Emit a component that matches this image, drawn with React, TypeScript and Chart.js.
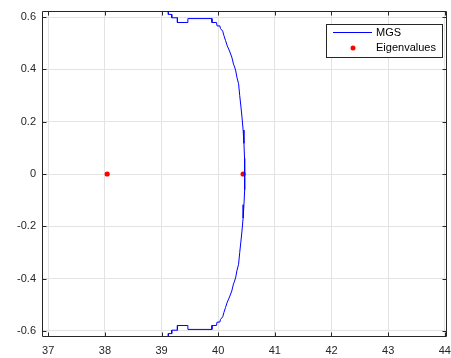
import React, { useEffect, useRef } from "react";
import { Chart, registerables } from "chart.js";
Chart.register(...registerables);

const mgsX = [
  39.10, 39.12, 39.12, 39.18, 39.18, 39.28, 39.28, 39.465, 39.465, 39.89, 39.89, 39.97, 39.98, 40.03, 40.04, 40.08,
  40.10, 40.13, 40.16, 40.20, 40.24, 40.27, 40.29, 40.31, 40.33, 40.36, 40.38, 40.40, 40.42, 40.44, 40.455, 40.465, 40.47,
  40.465, 40.455, 40.44, 40.42, 40.40, 40.38, 40.36, 40.33, 40.31, 40.29, 40.27, 40.24, 40.20, 40.16, 40.13, 40.10,
  40.08, 40.04, 40.03, 39.98, 39.97, 39.89, 39.89, 39.465, 39.465, 39.28, 39.28, 39.18, 39.18, 39.12, 39.12, 39.10,
];
const mgsY = [
  0.63, 0.62, 0.61, 0.61, 0.597, 0.597, 0.579, 0.579, 0.594, 0.594, 0.579, 0.579, 0.566, 0.566, 0.556, 0.546,
  0.53, 0.51, 0.49, 0.47, 0.447, 0.42, 0.409, 0.394, 0.37, 0.345, 0.30, 0.26, 0.218, 0.168, 0.117, 0.06, 0,
  -0.06, -0.117, -0.168, -0.218, -0.26, -0.30, -0.345, -0.37, -0.394, -0.409, -0.42, -0.447, -0.47, -0.49, -0.51, -0.53,
  -0.546, -0.556, -0.566, -0.566, -0.579, -0.579, -0.594, -0.594, -0.579, -0.579, -0.597, -0.597, -0.61, -0.61, -0.62, -0.63,
];
const eigX = [38.04, 40.44];
const eigY = [0, 0];
const xTicks = [37, 38, 39, 40, 41, 42, 43, 44];
const yTicks = [-0.6, -0.4, -0.2, 0, 0.2, 0.4, 0.6];
const xLabels = ["37", "38", "39", "40", "41", "42", "43", "44"];
const yLabels = ["-0.6", "-0.4", "-0.2", "0", "0.2", "0.4", "0.6"];
const xRange = [36.89, 44.03];
const yRange = [-0.623, 0.623];
const seriesNames = ["MGS", "Eigenvalues"];

const AX = "#262626";
const FONT = "Liberation Sans, Arial, Helvetica, sans-serif";

const framePlugin = {
  id: "frame",
  afterDraw(chart: any) {
    const { ctx, chartArea: a, scales } = chart;
    const x = scales.x;
    const y = scales.y;
    ctx.save();
    ctx.strokeStyle = AX;
    ctx.lineWidth = 1;
    const L = Math.round(a.left) + 0.5;
    const R = Math.round(a.right) - 0.5;
    const T = Math.round(a.top) + 0.5;
    const B = Math.round(a.bottom) - 0.5;
    ctx.beginPath();
    ctx.rect(L, T, R - L, B - T);
    ctx.stroke();
    ctx.beginPath();
    for (const v of xTicks) {
      const p = Math.round(x.getPixelForValue(v)) + 0.5;
      ctx.moveTo(p, B);
      ctx.lineTo(p, B - 4);
      ctx.moveTo(p, T);
      ctx.lineTo(p, T + 4);
    }
    for (const v of yTicks) {
      const p = Math.round(y.getPixelForValue(v)) + 0.5;
      ctx.moveTo(L, p);
      ctx.lineTo(L + 4, p);
      ctx.moveTo(R, p);
      ctx.lineTo(R - 4, p);
    }
    ctx.stroke();

    // legend
    ctx.fillStyle = "#ffffff";
    ctx.fillRect(326.5, 24.5, 116, 33);
    ctx.strokeStyle = AX;
    ctx.strokeRect(326.5, 24.5, 116, 33);
    ctx.strokeStyle = "#0000ff";
    ctx.beginPath();
    ctx.moveTo(333, 32.5);
    ctx.lineTo(372, 32.5);
    ctx.stroke();
    ctx.fillStyle = "#ff0000";
    ctx.beginPath();
    ctx.arc(353, 48, 2.5, 0, Math.PI * 2);
    ctx.fill();
    ctx.fillStyle = "#000000";
    ctx.font = `11px ${FONT}`;
    ctx.textAlign = "left";
    ctx.textBaseline = "middle";
    ctx.fillText(seriesNames[0], 376, 33);
    ctx.fillText(seriesNames[1], 376, 48);
    ctx.restore();
  },
};

export default function App() {
  const ref = useRef<HTMLCanvasElement>(null);
  useEffect(() => {
    const mgs = mgsX.map((x, i) => ({ x, y: mgsY[i] }));
    const eig = eigX.map((x, i) => ({ x, y: eigY[i] }));
    const chart = new Chart(ref.current!, {
      type: "scatter",
      data: {
        datasets: [
          {
            label: seriesNames[0],
            data: mgs,
            showLine: true,
            borderColor: "#0000ff",
            borderWidth: 1,
            pointRadius: 0,
            tension: 0,
          },
          {
            label: seriesNames[1],
            data: eig,
            pointRadius: 2.6,
            backgroundColor: "#ff0000",
            borderWidth: 0,
          },
        ],
      },
      options: {
        responsive: false,
        animation: false,
        devicePixelRatio: 1,
        layout: { padding: { left: 0, right: 4.5, top: 11, bottom: 0 } },
        plugins: { legend: { display: false }, tooltip: { enabled: false } },
        scales: {
          x: {
            type: "linear",
            min: xRange[0],
            max: xRange[1],
            border: { display: false },
            grid: { color: "#e3e3e3", drawTicks: false },
            afterBuildTicks: (s: any) => {
              s.ticks = xTicks.map((v) => ({ value: v }));
            },
            ticks: {
              padding: 7,
              color: AX,
              font: { family: FONT, size: 11 },
              callback: (v: any) => xLabels[xTicks.indexOf(Number(v))] ?? "",
            },
            afterFit: (s: any) => {
              s.height = 21;
              s.paddingLeft = 0;
              s.paddingRight = 0;
            },
          },
          y: {
            type: "linear",
            min: yRange[0],
            max: yRange[1],
            border: { display: false },
            grid: { color: "#e3e3e3", drawTicks: false },
            afterBuildTicks: (s: any) => {
              s.ticks = yTicks.map((v) => ({ value: v }));
            },
            ticks: {
              padding: 6,
              color: AX,
              font: { family: FONT, size: 11 },
              callback: (v: any) => {
                const i = yTicks.findIndex((t) => Math.abs(t - Number(v)) < 1e-9);
                return i >= 0 ? yLabels[i] : "";
              },
            },
            afterFit: (s: any) => {
              s.width = 42;
              s.paddingTop = 0;
              s.paddingBottom = 0;
            },
          },
        },
      },
      plugins: [framePlugin],
    });
    return () => chart.destroy();
  }, []);
  return (
    <div style={{ position: "absolute", left: 0, top: 0, width: 451, height: 358, background: "#fff" }}>
      <canvas ref={ref} width={451} height={358} />
    </div>
  );
}
